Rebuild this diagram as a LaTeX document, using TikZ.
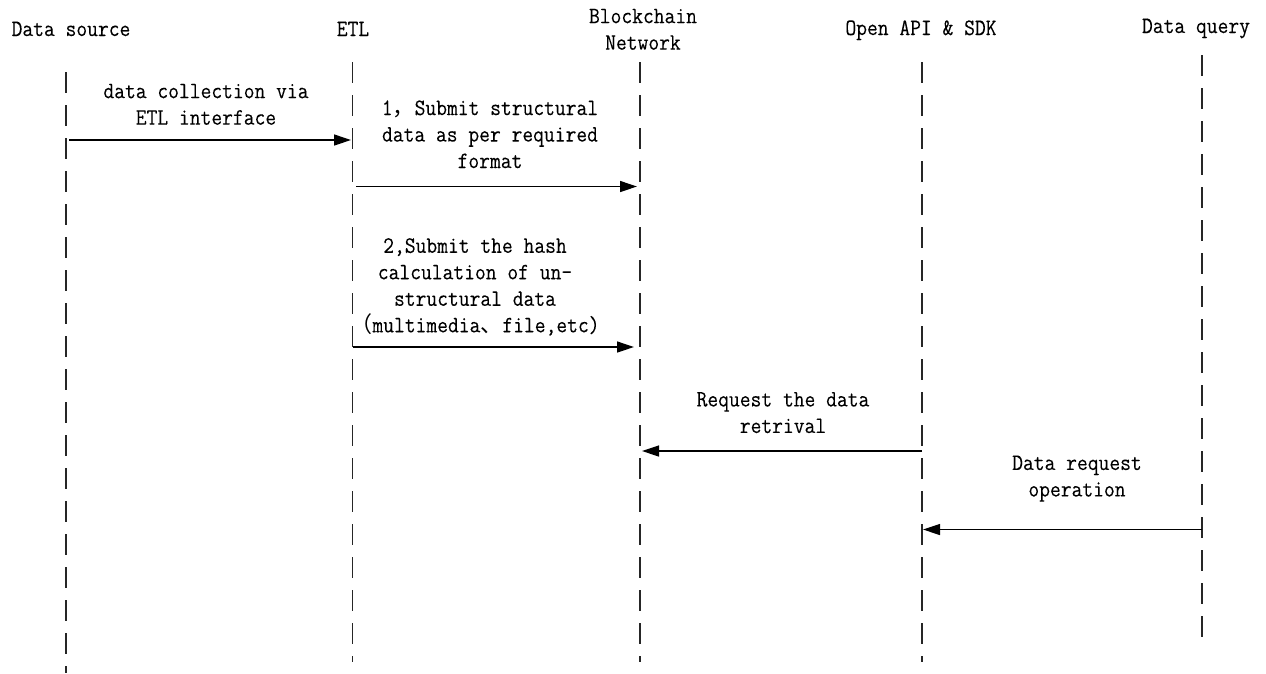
\documentclass[tikz,border=0pt]{standalone}
\usepackage{fontspec}
\usetikzlibrary{arrows.meta}
% narrow monospaced serif for all labels, CJK face for the full-width marks
\newfontfamily\lblfont[FakeStretch=0.892,FakeBold=0.12]{Latin Modern Mono}
\newfontfamily\cjkfont{Noto Sans CJK SC}
\newcommand\cjk[1]{{\cjkfont\fontsize{22pt}{26.5pt}\selectfont #1}}

\begin{document}
\begin{tikzpicture}[x=1pt, y=-1pt,
  txt/.style={font=\lblfont\fontsize{23.5pt}{26.5pt}\selectfont, align=center,
    inner sep=0pt, execute at begin node=\strut, execute at end node=\strut},
  lifeline/.style={line width=1.1pt, draw=black!85, dash pattern=on 21pt off 12pt},
  msg/.style={line width=1.3pt, -{Triangle[length=17pt,width=11pt]}}]
\useasboundingbox (0,0) rectangle (1266,673);

% participants
\node[txt] (ds)  at (71,30.7)   {Data source};
\node[txt] (etl) at (353,30.7)  {ETL};
\node[txt] (bc)  at (643,33.2)  {Blockchain\\Network};
\node[txt] (api) at (921,29.7)  {Open API \& SDK};
\node[txt] (dq)  at (1196,27.7) {Data query};

% lifelines
\coordinate (dsT)  at (66,72);    \coordinate (dsB)  at (66,673);
\coordinate (etlT) at (352.5,62); \coordinate (etlB) at (352.5,662);
\coordinate (bcT)  at (640,62);   \coordinate (bcB)  at (640,662);
\coordinate (apiT) at (922,62);   \coordinate (apiB) at (922,662);
\coordinate (dqT)  at (1202,55);  \coordinate (dqB)  at (1202,637);
\draw[lifeline] (dsT) -- (dsB);
\draw[lifeline] (etlT) -- (etlB);
\draw[lifeline] (bcT) -- (bcB);
\draw[lifeline] (apiT) -- (apiB);
\draw[lifeline] (dqT) -- (dqB);

% message end points
\coordinate (m1s) at (69,140);    \coordinate (m1e) at (351,140);
\coordinate (m2s) at (356,186.5); \coordinate (m2e) at (637,186.5);
\coordinate (m3s) at (353,347);   \coordinate (m3e) at (634,347);
\coordinate (m4s) at (922,451);   \coordinate (m4e) at (642,451);
\coordinate (m5s) at (1202,529.5);\coordinate (m5e) at (923,529.5);

% messages
\draw[msg] (m1s) -- (m1e);
\draw[msg] (m2s) -- (m2e);
\draw[msg] (m3s) -- (m3e);
\draw[msg] (m4s) -- (m4e);
\draw[msg] (m5s) -- (m5e);

% message labels
\node[txt] (l1) at (206,108.2) {data collection via\\ETL interface};
\node[txt] (l2) at (490,138.2) {1\cjk{，}Submit structural\\data as per required\\format};
\node[txt] (l3) at (475,289.2) {2,Submit the hash\\calculation of un-\\structural data\\\cjk{（}multimedia\cjk{、}file,etc)};
\node[txt] (l4) at (783,416.5) {Request the data\\retrival};
\node[txt] (l5) at (1077,480)  {Data request\\operation};
\end{tikzpicture}
\end{document}
